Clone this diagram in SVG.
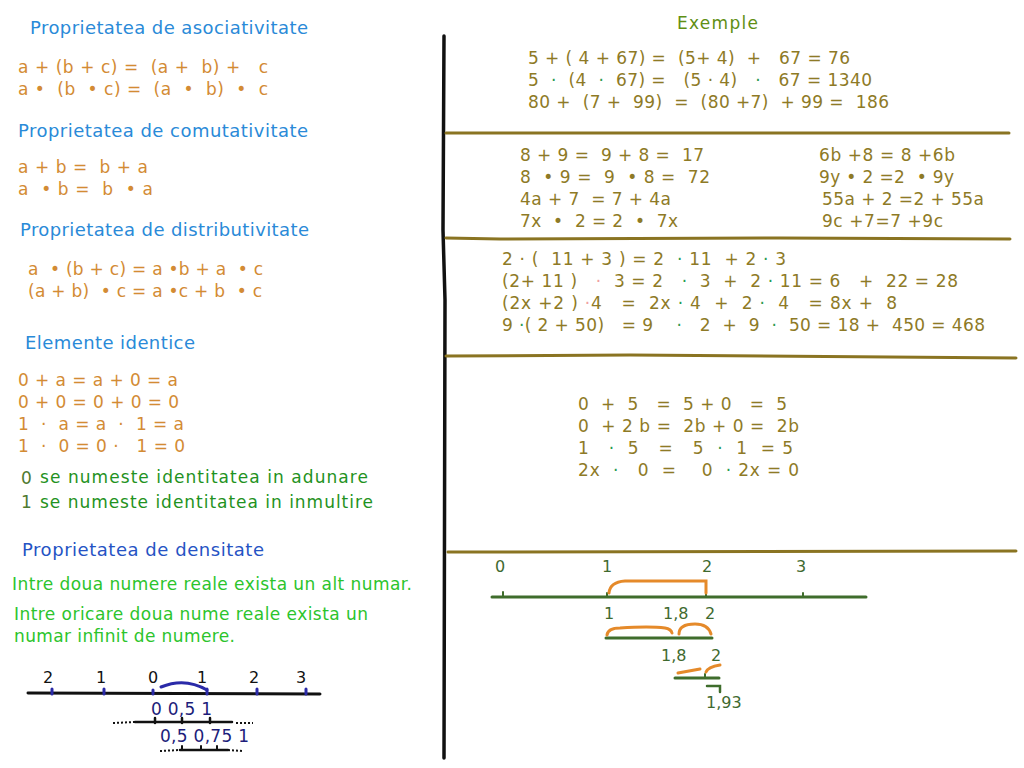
<svg xmlns="http://www.w3.org/2000/svg" width="1024" height="768" viewBox="0 0 1024 768">
<style>
text{font-family:"DejaVu Sans","Liberation Sans",sans-serif;white-space:pre}
.h{font-size:18px;fill:#2a8ad8}
.hd{font-size:18px;fill:#2553c4}
.o{font-size:17px;fill:#d38b34}
.g{font-size:17px;fill:#1f9222}
.gn{font-size:17px;fill:#4f7a30}
.lg{font-size:17px;fill:#2cc42c}
.ol{font-size:17px;fill:#8e7a26}
.ex{font-size:17px;fill:#5f8f14}
.bk{font-size:16px;fill:#111}
.nv{font-size:17px;fill:#1d1d7a}
.gl{font-size:16px;fill:#3f6a2f}
.div{stroke:#8a7422;stroke-width:3;fill:none;stroke-linecap:round}
.nl{stroke:#111;stroke-width:3;fill:none;stroke-linecap:round}
.nlg{stroke:#3f6d2c;stroke-width:3;fill:none;stroke-linecap:round}
.br{stroke:#e58a2a;stroke-width:3;fill:none;stroke-linecap:round}
.bt{stroke:#2a2aa8;stroke-width:3;fill:none;stroke-linecap:round}
.dot{stroke:#111;stroke-width:2;fill:none;stroke-dasharray:2 2}
</style>
<rect width="1024" height="768" fill="#ffffff"/>

<!-- left column -->
<g id="asociativitate">
<text class="h" x="30" y="34" textLength="278" lengthAdjust="spacing">Proprietatea de asociativitate</text>
<text class="o" x="18" y="73" textLength="250" lengthAdjust="spacing">a + (b + c) =  (a +  b) +   c</text>
<text class="o" x="18" y="95" textLength="250" lengthAdjust="spacing">a •  (b  • c) =  (a  •  b)  •  c</text>
</g>
<g id="comutativitate">
<text class="h" x="18" y="137" textLength="290" lengthAdjust="spacing">Proprietatea de comutativitate</text>
<text class="o" x="18" y="173" textLength="130" lengthAdjust="spacing">a + b =  b + a</text>
<text class="o" x="18" y="195" textLength="135" lengthAdjust="spacing">a  • b =  b  • a</text>
</g>
<g id="distributivitate">
<text class="h" x="20" y="236" textLength="289" lengthAdjust="spacing">Proprietatea de distributivitate</text>
<text class="o" x="28" y="275" textLength="235" lengthAdjust="spacing">a  • (b + c) = a •b + a  • c</text>
<text class="o" x="28" y="297" textLength="234" lengthAdjust="spacing">(a + b)  • c = a •c + b  • c</text>
</g>
<g id="elemente">
<text class="h" x="25" y="349" textLength="170" lengthAdjust="spacing">Elemente identice</text>
<text class="o" x="18" y="386" textLength="160" lengthAdjust="spacing">0 + a = a + 0 = a</text>
<text class="o" x="18" y="408" textLength="161" lengthAdjust="spacing">0 + 0 = 0 + 0 = 0</text>
<text class="o" x="18" y="430" textLength="166" lengthAdjust="spacing">1  ·  a = a  ·  1 = a</text>
<text class="o" x="18" y="452" textLength="167" lengthAdjust="spacing">1  ·  0 = 0 ·   1 = 0</text>
<text class="gn" x="21" y="484">0</text>
<text class="g" x="40" y="483" textLength="328" lengthAdjust="spacing">se numeste identitatea in adunare</text>
<text class="gn" x="21" y="508">1</text>
<text class="g" x="40" y="508" textLength="333" lengthAdjust="spacing">se numeste identitatea in inmultire</text>
</g>
<g id="densitate">
<text class="hd" x="22" y="556" textLength="242" lengthAdjust="spacing">Proprietatea de densitate</text>
<text class="lg" x="12" y="590" textLength="400" lengthAdjust="spacing">Intre doua numere reale exista un alt numar.</text>
<text class="lg" x="14" y="620" textLength="354" lengthAdjust="spacing">Intre oricare doua nume reale exista un</text>
<text class="lg" x="14" y="642" textLength="221" lengthAdjust="spacing">numar infinit de numere.</text>
</g>
<g id="dreapta-stanga">
<text class="bk" x="43" y="683">2</text>
<text class="bk" x="96" y="683">1</text>
<text class="bk" x="148" y="683">0</text>
<text class="bk" x="197" y="683">1</text>
<text class="bk" x="249" y="683">2</text>
<text class="bk" x="296" y="683">3</text>
<path class="nl" d="M28 693 L320 694"/>
<path class="bt" d="M52 689v5M104 689v5M153 690v4M207 689v5M257 689v5M306 689v5"/>
<path class="bt" d="M161 687 Q185 677 207 690"/>
<text class="nv" x="151" y="715" textLength="61" lengthAdjust="spacing">0 0,5 1</text>
<path class="nl" d="M135 722 L232 722" style="stroke-width:2.5"/>
<path class="dot" d="M113 723 L135 722M236 723 L253 723"/>
<path class="nl" d="M155 718v5M182 718v5M210 718v5" style="stroke-width:2.5"/>
<text class="nv" x="160" y="742" textLength="89" lengthAdjust="spacing">0,5 0,75 1</text>
<path class="nl" d="M180 750 L228 750" style="stroke-width:2.5"/>
<path class="dot" d="M160 751 L180 750M228 750 L242 751"/>
<path class="nl" d="M182 746v4M201 746v4M217 746v4" style="stroke-width:2"/>
</g>

<!-- vertical divider -->
<g id="separator">
<path d="M444 36 L443 230 L445 300 L444 758" stroke="#111" stroke-width="3.5" fill="none" stroke-linecap="round"/>
</g>

<!-- right column -->
<g id="exemple">
<text class="ex" x="677" y="29" textLength="81" lengthAdjust="spacing">Exemple</text>
<text class="ol" x="528" y="64" textLength="322" lengthAdjust="spacing">5 + ( 4 + 67) =  (5+ 4)  +   67 = 76</text>
<text class="ol" x="528" y="86" textLength="344" lengthAdjust="spacing">5  <tspan fill="#2a9a50">·</tspan>  (4  <tspan fill="#2a9a50">·</tspan>  67) =   (5 · 4)   <tspan fill="#2a9a50">·</tspan>   67 = 1340</text>
<text class="ol" x="528" y="108" textLength="361" lengthAdjust="spacing">80 +  (7 +  99)  =  (80 +7)  + 99 =  186</text>
</g>
<g id="sectiuni">
<path class="div" d="M446 133 L1009 133"/>
<path class="div" d="M446 238 L500 239 L780 238 L1010 239"/>
<path class="div" d="M446 356 L630 355 L1016 358"/>
<path class="div" d="M448 552 L1016 551"/>
</g>
<g id="ex-comutativitate">
<text class="ol" x="520" y="161" textLength="184" lengthAdjust="spacing">8 + 9 =  9 + 8 =  17</text>
<text class="ol" x="520" y="183" textLength="190" lengthAdjust="spacing">8  • 9 =  9  • 8 =  72</text>
<text class="ol" x="520" y="205" textLength="151" lengthAdjust="spacing">4a + 7  = 7 + 4a</text>
<text class="ol" x="520" y="227" textLength="158" lengthAdjust="spacing">7x  •  2 = 2  •  7x</text>
<text class="ol" x="819" y="161" textLength="136" lengthAdjust="spacing">6b +8 = 8 +6b</text>
<text class="ol" x="819" y="183" textLength="135" lengthAdjust="spacing">9y • 2 =2  • 9y</text>
<text class="ol" x="822" y="205" textLength="162" lengthAdjust="spacing">55a + 2 =2 + 55a</text>
<text class="ol" x="822" y="227" textLength="121" lengthAdjust="spacing">9c +7=7 +9c</text>
</g>
<g id="ex-distributivitate">
<text class="ol" x="502" y="265" textLength="284" lengthAdjust="spacing">2 · (  11 + 3 ) = 2  <tspan fill="#2a9a50">·</tspan> 11  + 2 <tspan fill="#2a9a50">·</tspan> 3</text>
<text class="ol" x="502" y="287" textLength="456" lengthAdjust="spacing">(2+ 11 )   <tspan fill="#f0a0a0">·</tspan>  3 = 2   <tspan fill="#2a9a50">·</tspan>  3  +  2 <tspan fill="#2a9a50">·</tspan> 11 = 6   +  22 = 28</text>
<text class="ol" x="502" y="309" textLength="395" lengthAdjust="spacing">(2x +2 ) <tspan fill="#f0a0a0">·</tspan>4   =  2x <tspan fill="#2a9a50">·</tspan> 4  +  2 <tspan fill="#2a9a50">·</tspan>  4   = 8x +  8</text>
<text class="ol" x="502" y="331" textLength="483" lengthAdjust="spacing">9 <tspan fill="#2a9a50">·</tspan>( 2 + 50)   = 9    <tspan fill="#2a9a50">·</tspan>   2  +  9  <tspan fill="#2a9a50">·</tspan>  50 = 18 +  450 = 468</text>
</g>
<g id="ex-elemente">
<text class="ol" x="578" y="410" textLength="209" lengthAdjust="spacing">0  +  5   =  5 + 0   =  5</text>
<text class="ol" x="578" y="432" textLength="221" lengthAdjust="spacing">0  + 2 b =  2b + 0 =  2b</text>
<text class="ol" x="578" y="454" textLength="215" lengthAdjust="spacing">1   <tspan fill="#2a9a50">·</tspan>  5   =   5  <tspan fill="#2a9a50">·</tspan>  1  = 5</text>
<text class="ol" x="578" y="476" textLength="221" lengthAdjust="spacing">2x  <tspan fill="#2a9a50">·</tspan>   0  =    0  <tspan fill="#2a9a50">·</tspan> 2x = 0</text>
</g>
<g id="dreapta-dreapta">
<text class="gl" x="495" y="572">0</text>
<text class="gl" x="602" y="572">1</text>
<text class="gl" x="702" y="572">2</text>
<text class="gl" x="796" y="572">3</text>
<path class="nlg" d="M492 597 L866 597"/>
<path class="nlg" d="M503 592v5M607 593v4M706 593v4M803 593v4" style="stroke-width:2"/>
<path class="br" d="M609 593 Q610 582 625 581 L706 581 L706 593"/>
<text class="gl" x="604" y="619">1</text>
<text class="gl" x="663" y="619">1,8</text>
<text class="gl" x="705" y="619">2</text>
<path class="nlg" d="M606 638 L712 638"/>
<path class="br" d="M607 635 Q608 628 620 628 Q650 626 665 628 Q671 629 672 633"/>
<path class="br" d="M679 634 Q679 624 695 624 Q708 624 711 634"/>
<text class="gl" x="661" y="661">1,8</text>
<text class="gl" x="711" y="661">2</text>
<path class="nlg" d="M675 678 L719 678"/>
<path class="nlg" d="M705 674v4" style="stroke-width:2"/>
<path class="br" d="M678 673 L700 669"/>
<path class="br" d="M706 672 Q708 667 720 665"/>
<path class="nlg" d="M707 686 L720 686 L720 692" style="stroke-width:2.5"/>
<text class="gl" x="706" y="708">1,93</text>
</g>
</svg>
